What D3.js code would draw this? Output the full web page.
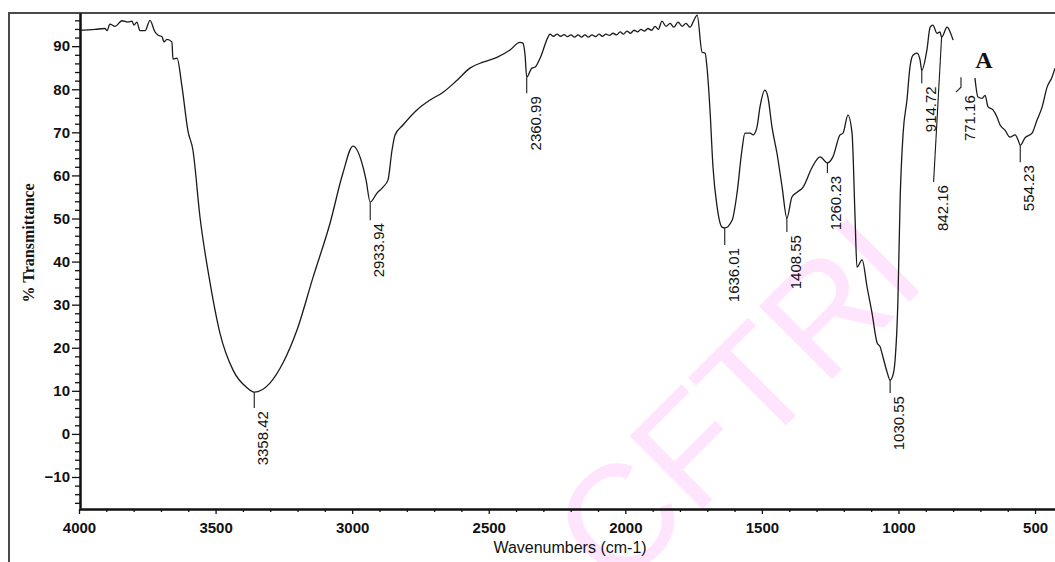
<!DOCTYPE html>
<html>
<head>
<meta charset="utf-8">
<script src="https://cdn.jsdelivr.net/npm/d3@7/dist/d3.min.js"></script>
<style>
  html, body { margin: 0; padding: 0; background: #fff; }
  svg { display: block; }
</style>
</head>
<body>
<svg id="chart" width="1055" height="562"></svg>
<script>
// FTIR spectrum: wavenumber (cm-1) and % transmittance; null marks the gap in the trace
const wavenumbers = [
  4000, 3941, 3905, 3897, 3887, 3868, 3843, 3821, 3806, 3799, 3788, 3777, 3758, 3740,
  3722, 3711, 3696, 3689, 3678, 3660, 3656, 3641, 3623, 3601, 3583, 3557, 3520, 3484,
  3436, 3385, 3358.42, 3301, 3253, 3202, 3143, 3081, 3034, 2997, 2960, 2949, 2933.94,
  2909, 2887, 2869, 2854, 2843, 2814, 2763, 2715, 2667, 2616, 2569, 2521, 2470, 2422,
  2386, 2375, 2367, 2360.99, 2342, 2331, 2312, 2283,
  2276, 2263, 2250, 2237, 2224, 2212, 2199, 2186, 2173, 2160, 2148, 2135, 2122, 2109,
  2096, 2084, 2071, 2058, 2045, 2032, 2019, 2007, 1994, 1981, 1968, 1955, 1943, 1930,
  1917, 1904, 1891, 1879, 1866, 1851, 1836, 1822, 1807, 1792, 1778, 1763, 1749, 1737,
  1719, 1708, 1701, 1690, 1679, 1664, 1646, 1636.01, 1609, 1591, 1573, 1562, 1543, 1532,
  1518, 1507, 1489, 1478, 1463, 1445, 1426, 1408.55, 1390, 1371, 1349, 1316, 1287,
  1260.23, 1240, 1214, 1203, 1185, 1170, 1159, 1152, 1133, 1115, 1097, 1078, 1067, 1057,
  1042, 1030.55, 1020, 1013, 1002, 994, 983, 969, 958, 947, 932, 921, 914.72, 896, 884,
  874, 859, 848, 842.16, 822, 811, 800,
  760,
  720, 709, 694, 683, 672, 654, 639, 628, 610, 592, 573, 562, 554.23, 537, 511, 493, 474,
  456, 438, 427
];
const transmittance = [
  93.7, 93.9, 94.1, 93.6, 95.1, 94.6, 95.9, 95.6, 95.8, 94.9, 95.6, 93.6, 93.6, 96.0,
  93.3, 92.6, 92.2, 91.0, 91.6, 91.0, 87.0, 87.2, 80.6, 70.3, 65.9, 50.3, 35.0, 23.4,
  14.8, 10.7, 9.7, 11.8, 16.5, 24.1, 36.4, 48.9, 60.5, 66.8, 61.9, 58.9, 53.8,
  55.9, 57.3, 58.9, 65.9, 69.4, 71.7, 75.2, 77.5, 79.3, 82.1, 84.9, 86.3, 87.4, 89.1,
  90.9, 90.7, 87.9, 82.8, 84.9, 85.1, 87.2, 92.1,
  92.8, 92.3, 92.8, 92.3, 92.7, 92.2, 92.6, 92.1, 92.6, 92.1, 92.6, 92.1, 92.6, 92.2,
  92.8, 92.3, 92.8, 92.5, 93.0, 92.6, 93.3, 92.8, 93.5, 93.0, 93.7, 93.3, 93.9, 93.5,
  94.1, 93.7, 94.6, 93.9, 95.8, 94.6, 95.3, 94.4, 95.6, 94.6, 95.3, 94.4, 96.0, 97.2,
  88.6, 88.4, 85.1, 75.2, 61.9, 52.7, 48.0, 47.8, 49.6, 55.9, 65.9, 69.8, 69.8, 69.4,
  71.2, 75.9, 79.8, 78.2, 71.2, 65.2, 57.3, 50.1, 55.0, 56.1, 57.3, 61.9, 64.3,
  62.9, 64.3, 69.4, 69.8, 74.0, 69.8, 50.3, 38.7, 40.4, 34.1, 28.1, 21.1, 20.2, 17.9,
  14.4, 12.5, 13.7, 16.7, 31.1, 54.3, 69.8, 77.5, 85.1, 87.9, 88.4, 86.8, 84.4, 89.1, 94.4,
  94.9, 93.0, 93.3, 92.1, 94.4, 93.3, 91.4,
  null,
  82.6, 78.2, 77.9, 78.6, 75.9, 75.2, 73.5, 71.7, 70.5, 68.9, 69.4, 68.2, 67.0, 68.7, 69.8, 72.8, 75.9,
  80.5, 82.8, 84.9
];

// Labelled peak positions and the transmittance where each marker starts
const peakWavenumbers = [3358.42, 2933.94, 2360.99, 1636.01, 1408.55, 1260.23, 1030.55, 914.72, 842.16, 771.16, 554.23];
const peakTransmittance = [9.7, 53.8, 82.8, 47.8, 50.1, 62.9, 12.5, 84.4, 92.1, 82.8, 67.0];
const peakLabels = ["3358.42", "2933.94", "2360.99", "1636.01", "1408.55", "1260.23", "1030.55", "914.72", "842.16", "771.16", "554.23"];

// Axis ticks
const xMajorTicks = [4000, 3500, 3000, 2500, 2000, 1500, 1000, 500];
const xMinorTicks = d3.range(3900, 450, -100).filter(v => v % 500 !== 0);
const yMajorTicks = [-10, 0, 10, 20, 30, 40, 50, 60, 70, 80, 90];
const yMinorTicks = d3.range(-16, 97, 2).filter(v => v % 10 !== 0);

// Marker drawing details: stem length and stem lean
const markerLayout = [
  {len: 16, lean: 0}, {len: 18, lean: 0}, {len: 16, lean: 0}, {len: 17, lean: 0},
  {len: 14, lean: 0}, {len: 10, lean: 0}, {len: 13, lean: 0}, {len: 13, lean: 0},
  {len: 145, lean: -8}, {len: 10, lean: 0, hook: true}, {len: 17, lean: 0}
];

const svg = d3.select("#chart");
const W = 1055, H = 562;
const x = d3.scaleLinear().domain([4000, 427]).range([79, 1055]);
const y = d3.scaleLinear().domain([-17.2, 97.7]).range([508, 13]);

const sans = "'Liberation Sans', Arial, Helvetica, sans-serif";
const serif = "'Liberation Serif', 'Times New Roman', Times, serif";

// Watermark
svg.append("text")
  .attr("transform", "translate(735,400) rotate(-45)")
  .attr("text-anchor", "middle")
  .attr("dy", "0.36em")
  .attr("font-family", sans)
  .attr("font-size", 150)
  .attr("fill", "#ffe4fd")
  .text("CFTRI");

// Outer frame (left and top edges)
svg.append("path")
  .attr("d", `M9,${H} V13 H${W}`)
  .attr("fill", "none")
  .attr("stroke", "#4a4a4a")
  .attr("stroke-width", 2);

// Y axis
const yAxisG = svg.append("g").attr("transform", "translate(80,0)");
yAxisG.call(d3.axisLeft(y).tickValues(yMinorTicks).tickSize(5).tickSizeOuter(0).tickFormat(""));
yAxisG.append("g").call(d3.axisLeft(y).tickValues(yMajorTicks).tickSize(8).tickSizeOuter(0).tickFormat(d3.format("d")));
yAxisG.selectAll("path.domain").attr("stroke", "#111").attr("stroke-width", 2);
yAxisG.selectAll("line").attr("stroke", "#111").attr("stroke-width", 1.3);
yAxisG.selectAll("text")
  .attr("font-family", sans).attr("font-size", 15).attr("font-weight", "bold")
  .attr("fill", "#111").attr("x", -10);

// X axis
const xAxisG = svg.append("g").attr("transform", "translate(0,509)");
xAxisG.call(d3.axisBottom(x).tickValues(xMinorTicks).tickSize(3).tickSizeOuter(0).tickFormat(""));
xAxisG.append("g").call(d3.axisBottom(x).tickValues(xMajorTicks).tickSize(5).tickSizeOuter(0).tickFormat(d3.format("d")));
xAxisG.selectAll("path.domain").attr("stroke", "#111").attr("stroke-width", 2);
xAxisG.selectAll("line").attr("stroke", "#111").attr("stroke-width", 1.3);
xAxisG.selectAll("text")
  .attr("font-family", sans).attr("font-size", 15).attr("font-weight", "bold")
  .attr("fill", "#111").attr("y", 13);

// Axis titles
svg.append("text")
  .attr("x", 570).attr("y", 553)
  .attr("text-anchor", "middle")
  .attr("font-family", sans).attr("font-size", 16)
  .attr("fill", "#111")
  .text("Wavenumbers (cm-1)");

svg.append("text")
  .attr("transform", "translate(34,243) rotate(-90)")
  .attr("text-anchor", "middle")
  .attr("font-family", serif).attr("font-size", 16).attr("font-weight", "bold")
  .attr("fill", "#111")
  .text("% Transmittance");

// Spectrum trace
const spectrum = wavenumbers.map((w, i) => ({w, t: transmittance[i]}));
const line = d3.line()
  .defined(d => d.t !== null)
  .x(d => x(d.w))
  .y(d => y(d.t))
  .curve(d3.curveMonotoneX);

svg.append("path")
  .datum(spectrum)
  .attr("d", line)
  .attr("fill", "none")
  .attr("stroke", "#1a1a1a")
  .attr("stroke-width", 1.3)
  .attr("stroke-linejoin", "round");

// Peak markers and labels
const peaks = peakWavenumbers.map((w, i) => ({w, t: peakTransmittance[i], label: peakLabels[i], ...markerLayout[i]}));
const pg = svg.append("g");
peaks.forEach(p => {
  const x0 = x(p.w), y0 = y(p.t);
  const x1 = x0 + p.lean, y1 = y0 + p.len;
  let d = `M${x0},${y0} L${x1},${y1}`;
  let lx = x1, ly = y1;
  if (p.hook) { d += ` L${x1 - 5},${y1 + 5}`; ly = y1 + 5; }
  pg.append("path").attr("d", d).attr("fill", "none").attr("stroke", "#1a1a1a").attr("stroke-width", 1.1);
  pg.append("text")
    .attr("transform", `translate(${lx + 14},${ly + 3}) rotate(-90)`)
    .attr("text-anchor", "end")
    .attr("font-family", sans).attr("font-size", 15)
    .attr("fill", "#111")
    .text(p.label);
});

// Panel letter
svg.append("text")
  .attr("x", 984).attr("y", 68)
  .attr("text-anchor", "middle")
  .attr("font-family", serif).attr("font-size", 24).attr("font-weight", "bold")
  .attr("fill", "#111")
  .text("A");
</script>
</body>
</html>
